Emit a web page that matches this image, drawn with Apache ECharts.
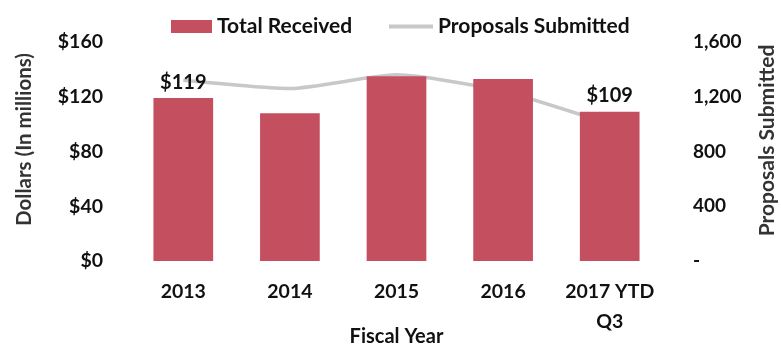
<!DOCTYPE html>
<html><head><meta charset="utf-8">
<script src="https://cdn.jsdelivr.net/npm/echarts@6/dist/echarts.min.js"></script>
<style>html,body{margin:0;padding:0;background:#fff}#c{width:781px;height:352px}</style>
</head><body><div id="c"></div>
<script>
const categories = ['2013', '2014', '2015', '2016', '2017 YTD\nQ3'];
const totalReceived = [119, 108, 135, 133, 109];
const proposalsSubmitted = [1320, 1260, 1360, 1240, 1000];
const leftTicks = [0, 40, 80, 120, 160];
const rightTicks = [0, 400, 800, 1200, 1600];
const labeledBars = [0, 4];

const FONT = 'Lato';
const legendText = {fontSize: 21, fontWeight: 'bold', color: '#111', fontFamily: FONT};
const chart = echarts.init(document.getElementById('c'), null, {renderer: 'canvas'});
chart.setOption({
  animation: false,
  textStyle: {fontFamily: FONT},
  legend: [
    {
      top: 11, left: 166, itemWidth: 41, itemHeight: 13, textStyle: legendText,
      data: [{name: 'Total Received', icon: 'rect'}]
    },
    {
      top: 11, left: 384, itemWidth: 44, itemHeight: 4, textStyle: legendText,
      data: [{name: 'Proposals Submitted', icon: 'rect'}]
    }
  ],
  grid: {left: 130, right: 118, top: 42, bottom: 91, outerBoundsMode: 'none', containLabel: false},
  xAxis: {
    type: 'category', data: categories,
    axisLine: {show: false}, axisTick: {show: false},
    axisLabel: {interval: 0, hideOverlap: false, fontSize: 19.5, fontWeight: 'bold', color: '#111', margin: 16, lineHeight: 30, fontFamily: FONT},
    name: 'Fiscal Year', nameLocation: 'middle', nameGap: 66, nameMoveOverlap: false,
    nameTextStyle: {fontSize: 20, fontWeight: 'bold', color: '#111', fontFamily: FONT}
  },
  yAxis: [
    {
      type: 'value', min: leftTicks[0], max: leftTicks[leftTicks.length - 1], interval: 40,
      splitLine: {show: false}, axisLine: {show: false}, axisTick: {show: false},
      axisLabel: {fontSize: 19.5, fontWeight: 'bold', color: '#111', margin: 27, formatter: v => '$' + v, fontFamily: FONT},
      name: 'Dollars (In millions)', nameLocation: 'middle', nameGap: 95, nameRotate: 90, nameMoveOverlap: false,
      nameTextStyle: {fontSize: 20.5, fontWeight: 'bold', color: '#333', fontFamily: FONT, padding: [0, 0, 0, 24]}
    },
    {
      type: 'value', min: rightTicks[0], max: rightTicks[rightTicks.length - 1], interval: 400,
      splitLine: {show: false}, axisLine: {show: false}, axisTick: {show: false},
      axisLabel: {fontSize: 19, fontWeight: 'bold', color: '#111', margin: 30, align: 'left',
        formatter: v => v === 0 ? '-' : v.toLocaleString('en-US'), fontFamily: FONT},
      name: 'Proposals Submitted', nameLocation: 'middle', nameGap: 94, nameRotate: 90, nameMoveOverlap: false,
      nameTextStyle: {fontSize: 21, fontWeight: 'bold', color: '#333', fontFamily: FONT, padding: [0, 0, 0, 22]}
    }
  ],
  series: [
    {
      name: 'Total Received', type: 'bar', barWidth: '56%',
      itemStyle: {color: '#c4505f'},
      data: totalReceived.map((v, i) => ({
        value: v,
        label: {show: labeledBars.includes(i), position: 'top', distance: 6,
          formatter: p => '$' + p.value, fontSize: 20, fontWeight: 'bold', color: '#111', fontFamily: FONT}
      }))
    },
    {
      name: 'Proposals Submitted', type: 'line', yAxisIndex: 1, smooth: 0.2,
      showSymbol: false, symbol: 'none',
      lineStyle: {color: '#c8c8c8', width: 3.5},
      itemStyle: {color: '#c8c8c8'},
      data: proposalsSubmitted, z: 1
    }
  ]
});
</script></body></html>
